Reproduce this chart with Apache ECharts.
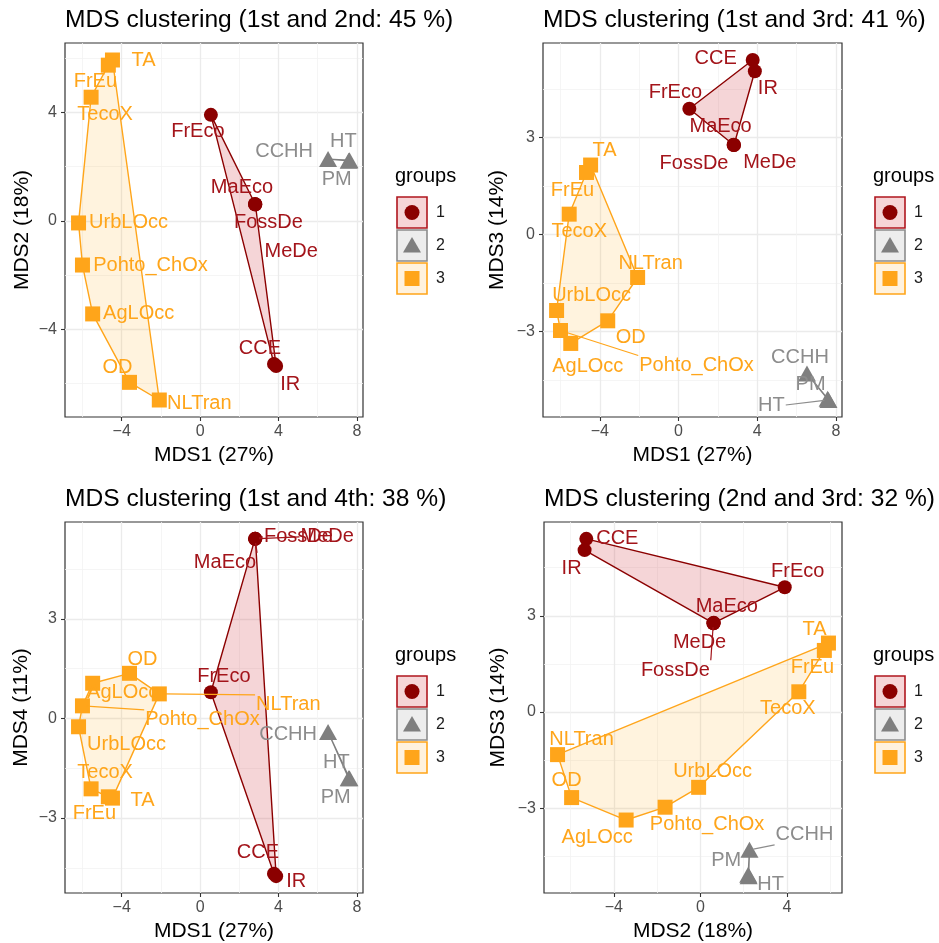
<!DOCTYPE html>
<html><head><meta charset="utf-8">
<script src="https://cdn.jsdelivr.net/npm/echarts@6/dist/echarts.min.js"></script>
<style>html,body{margin:0;padding:0;background:#fff}#c{width:939px;height:943px}</style>
</head><body><div id="c"></div>
<script>
// ---------------- data ----------------
const items  = ['CCE','IR','FrEco','MaEco','FossDe','MeDe','CCHH','HT','PM','TA','FrEu','TecoX','UrbLOcc','Pohto_ChOx','AgLOcc','OD','NLTran'];
const groups = [1,1,1,1,1,1,2,2,2,3,3,3,3,3,3,3,3];
const mds1 = [3.77, 3.88, 0.55, 2.80, 2.82, 2.81, 6.53, 7.62, 7.58, -4.47, -4.68, -5.56, -6.20, -6.00, -5.48, -3.60, -2.08];
const mds2 = [-5.27, -5.35, 3.90, 0.62, 0.60, 0.61, 2.27, 2.23, 2.21, 5.92, 5.73, 4.55, -0.08, -1.63, -3.43, -5.95, -6.60];
const mds3 = [5.40, 5.05, 3.89, 2.78, 2.77, 2.77, -4.30, -5.12, -5.08, 2.15, 1.92, 0.63, -2.35, -2.97, -3.37, -2.67, -1.33];
const mds4 = [-4.68, -4.75, 0.79, 5.41, 5.41, 5.41, -0.41, -1.80, -1.80, -2.40, -2.36, -2.12, -0.25, 0.38, 1.06, 1.36, 0.74];
const variance = [27, 18, 14, 11];
const ordinals = ['1st','2nd','3rd','4th'];
const panels = [[0,1],[0,2],[0,3],[1,2]];
const majorTicks = [[-4,0,4,8],[-4,0,4,8],[-3,0,3],[-3,0,3]];
const minorTicks = [[-6,-2,2,6],[-6,-2,2,6],[-4.5,-1.5,1.5,4.5],[-4.5,-1.5,1.5,4.5]];
const groupNames = ['1','2','3'];

// ---------------- layout / style ----------------
const FONT = "'Liberation Sans', Arial, Helvetica, sans-serif";
const dims = [mds1, mds2, mds3, mds4];
const grids = [
  {left:65, top:43, width:298, height:374},
  {left:543, top:43, width:299, height:374},
  {left:65, top:522, width:298, height:373},
  {left:544, top:522, width:298, height:373}
];
const yNameGap = [32, 35, 33, 35.5];
const legendPos = [[395,178],[873,178],[395,657],[873,657]];
const gStyle = {
  1:{symbol:'circle', size:14, color:'#8B0000', text:'#A3141A', hullFill:'rgba(205,45,55,0.2)', hullLine:'#8B0000', keyFill:'#F6D5D7', keyLine:'#B0161E'},
  2:{symbol:'triangle', size:[18,16], color:'#7F7F7F', text:'#8C8C8C', hullFill:'rgba(127,127,127,0.15)', hullLine:'#7F7F7F', keyFill:'#EDEDED', keyLine:'#8C8C8C'},
  3:{symbol:'rect', size:15, color:'#FFA51A', text:'#FFA51A', hullFill:'rgba(255,165,0,0.13)', hullLine:'#FFA51A', keyFill:'#FFF2DE', keyLine:'#FFA51A'}
};
// label offsets in pixels from the point: [dx, dy, leader]
const labelOffsets = [
  {CCE:[-14,-15], IR:[14,18], FrEco:[-13,17], MaEco:[-13,-16], FossDe:[13,18], MeDe:[36,47], CCHH:[-44,-8], HT:[-6,-19], PM:[-12,19], TA:[31,0], FrEu:[-13,16], TecoX:[14,17], UrbLOcc:[50,0], Pohto_ChOx:[68,0], AgLOcc:[46,0], OD:[-12,-15], NLTran:[40,3]},
  {CCE:[-37,-2], IR:[13,17], FrEco:[-14,-16], MaEco:[-13,-18], FossDe:[-40,18], MeDe:[36,17], CCHH:[-7,-16], HT:[-57,5,1], PM:[-17,-14], TA:[14,-15], FrEu:[-14,18], TecoX:[10,17], UrbLOcc:[35,-15], Pohto_ChOx:[136,35,1], AgLOcc:[17,23], OD:[23,17], NLTran:[13,-14]},
  {CCE:[-16,-21], IR:[20,5], FrEco:[13,-16], MaEco:[-30,24,1], FossDe:[43,-2,1], MeDe:[72,-2,1], CCHH:[-40,2], HT:[-13,-16], PM:[-13,19], TA:[30,2], FrEu:[-14,17], TecoX:[14,-16], UrbLOcc:[48,18], Pohto_ChOx:[120,14,1], AgLOcc:[30,9], OD:[13,-14], NLTran:[129,11,1]},
  {CCE:[31,0], IR:[-13,18], FrEco:[13,-16], MaEco:[13,-16], FossDe:[-38,47,1], MeDe:[-14,19], CCHH:[55,-15,1], HT:[22,8], PM:[-22,-14], TA:[-14,-14], FrEu:[-12,17], TecoX:[-11,17], UrbLOcc:[14,-16], Pohto_ChOx:[42,17], AgLOcc:[-29,17], OD:[-5,-17], NLTran:[24,-15]}
];

// ---------------- helpers ----------------
const cv = document.createElement('canvas').getContext('2d');
cv.font = '20px ' + FONT;
const measure = t => cv.measureText(t).width;
const fmt = v => String(v).replace('-', '\u2212');
function extentOf(arr){ const mn=Math.min(...arr), mx=Math.max(...arr), pad=(mx-mn)*0.05; return [mn-pad, mx+pad]; }
function hull(pts){
  const p = pts.slice().sort((a,b)=>a[0]-b[0]||a[1]-b[1]);
  if (p.length < 3) return p;
  const cross=(o,a,b)=>(a[0]-o[0])*(b[1]-o[1])-(a[1]-o[1])*(b[0]-o[0]);
  const lo=[], up=[];
  for (const q of p){ while(lo.length>=2 && cross(lo[lo.length-2],lo[lo.length-1],q)<=0) lo.pop(); lo.push(q); }
  for (let i=p.length-1;i>=0;i--){ const q=p[i]; while(up.length>=2 && cross(up[up.length-2],up[up.length-1],q)<=0) up.pop(); up.push(q); }
  up.pop(); lo.pop();
  return lo.concat(up);
}

const xAxes=[], yAxes=[], series=[], titles=[], graphics=[];
panels.forEach((pd,p)=>{
  const [xi, yi] = pd;
  const xe = extentOf(dims[xi]), ye = extentOf(dims[yi]);
  const xMaj = majorTicks[xi].filter(v=>v>=xe[0]&&v<=xe[1]);
  const yMaj = majorTicks[yi].filter(v=>v>=ye[0]&&v<=ye[1]);
  titles.push({text:`MDS clustering (${ordinals[xi]} and ${ordinals[yi]}: ${variance[xi]+variance[yi]} %)`,
    left:grids[p].left, top:grids[p].top-35, padding:0,
    textStyle:{fontSize:24.6, fontWeight:'normal', color:'#000', fontFamily:FONT}});
  const common = {gridIndex:p, type:'value', scale:true};
  xAxes.push(Object.assign({}, common, {min:xe[0], max:xe[1], position:'bottom',
    name:`MDS${xi+1} (${variance[xi]}%)`, nameLocation:'middle', nameGap:28,
    nameTextStyle:{fontSize:21, color:'#000', fontFamily:FONT},
    axisLine:{show:false, onZero:false},
    axisTick:{show:true, length:4, customValues:xMaj, lineStyle:{color:'#333', width:1.1}},
    axisLabel:{customValues:xMaj, color:'#4D4D4D', fontSize:16, fontFamily:FONT, margin:7, formatter:fmt},
    splitLine:{show:true, lineStyle:{color:'#EBEBEB', width:1.3}}}));
  xAxes.push(Object.assign({}, common, {min:xe[0], max:xe[1], position:'top',
    axisLine:{show:false, onZero:false}, axisTick:{show:false, customValues:minorTicks[xi]},
    axisLabel:{show:false, customValues:minorTicks[xi]},
    splitLine:{show:true, lineStyle:{color:'#F3F3F3', width:0.8}}}));
  yAxes.push(Object.assign({}, common, {min:ye[0], max:ye[1], position:'left',
    name:`MDS${yi+1} (${variance[yi]}%)`, nameLocation:'middle', nameGap:yNameGap[p], nameRotate:90,
    nameTextStyle:{fontSize:21, color:'#000', fontFamily:FONT},
    axisLine:{show:false, onZero:false},
    axisTick:{show:true, length:4, customValues:yMaj, lineStyle:{color:'#333', width:1.1}},
    axisLabel:{customValues:yMaj, color:'#4D4D4D', fontSize:16, fontFamily:FONT, margin:8, formatter:fmt},
    splitLine:{show:true, lineStyle:{color:'#EBEBEB', width:1.3}}}));
  yAxes.push(Object.assign({}, common, {min:ye[0], max:ye[1], position:'right',
    axisLine:{show:false, onZero:false}, axisTick:{show:false, customValues:minorTicks[yi]},
    axisLabel:{show:false, customValues:minorTicks[yi]},
    splitLine:{show:true, lineStyle:{color:'#F3F3F3', width:0.8}}}));

  // hulls
  [1,2,3].forEach(g=>{
    const pts = items.map((n,i)=>[dims[xi][i], dims[yi][i], groups[i]]).filter(d=>d[2]===g).map(d=>[d[0],d[1]]);
    const h = hull(pts);
    const st = gStyle[g];
    series.push({type:'custom', xAxisIndex:2*p, yAxisIndex:2*p, z:1, silent:true,
      encode:{x:0,y:1}, data:h,
      renderItem(params, api){
        if (params.dataIndex !== 0) return null;
        const c = h.map(v=>api.coord(v));
        return {type:'polygon', shape:{points:c}, style:{fill:st.hullFill, stroke:st.hullLine, lineWidth:1.4, lineJoin:'round'}};
      }});
  });
  // points
  [1,2,3].forEach(g=>{
    const st = gStyle[g];
    series.push({type:'scatter', xAxisIndex:2*p, yAxisIndex:2*p, z:3, silent:true,
      symbol:st.symbol, symbolSize:st.size, itemStyle:{color:st.color, opacity:1},
      data: items.map((n,i)=>[dims[xi][i], dims[yi][i], groups[i]]).filter(d=>d[2]===g).map(d=>[d[0],d[1]])});
  });
  // labels
  const offs = labelOffsets[p];
  series.push({type:'custom', xAxisIndex:2*p, yAxisIndex:2*p, z:5, silent:true,
    encode:{x:0,y:1},
    data: items.map((n,i)=>[dims[xi][i], dims[yi][i], i]),
    renderItem(params, api){
      const i = api.value(2);
      const name = items[i];
      const pt = api.coord([api.value(0), api.value(1)]);
      const o = offs[name];
      const cx = pt[0]+o[0], cy = pt[1]+o[1];
      const col = gStyle[groups[i]].text;
      const children = [];
      if (o[2]) {
        const w = measure(name)/2 + 1, hh = 10;
        const cands = [[cx-w,cy],[cx+w,cy],[cx,cy-hh],[cx,cy+hh],[cx-w,cy-hh],[cx+w,cy-hh],[cx-w,cy+hh],[cx+w,cy+hh]];
        let best=cands[0], bd=Infinity;
        cands.forEach(c=>{const d=Math.hypot(c[0]-pt[0], c[1]-pt[1]); if(d<bd){bd=d; best=c;}});
        const pad = 4;
        if (bd > pad+2) {
          const ux=(best[0]-pt[0])/bd, uy=(best[1]-pt[1])/bd;
          children.push({type:'line', shape:{x1:pt[0]+ux*pad, y1:pt[1]+uy*pad, x2:best[0], y2:best[1]},
            style:{stroke:col, lineWidth:1.2}});
        }
      }
      children.push({type:'text', x:cx, y:cy, style:{text:name, fill:col, fontSize:20, fontFamily:FONT, align:'center', verticalAlign:'middle'}});
      return {type:'group', children};
    }});

  // legend (drawn as graphics)
  const [lx, ly] = legendPos[p];
  graphics.push({type:'text', left:lx, top:ly-12, style:{text:'groups', fontSize:20, fontFamily:FONT, fill:'#000'}});
  [1,2,3].forEach((g,k)=>{
    const st = gStyle[g];
    const top = ly+19+k*33, cxk = lx+17, cyk = top+15.5;
    graphics.push({type:'rect', shape:{x:lx+2, y:top, width:30, height:31}, style:{fill:st.keyFill, stroke:st.keyLine, lineWidth:1.6}});
    if (g===1) graphics.push({type:'circle', shape:{cx:cxk, cy:cyk, r:7.5}, style:{fill:st.color}});
    if (g===2) graphics.push({type:'polygon', shape:{points:[[cxk, cyk-8.5],[cxk-9, cyk+7],[cxk+9, cyk+7]]}, style:{fill:st.color}});
    if (g===3) graphics.push({type:'rect', shape:{x:cxk-7.5, y:cyk-7.5, width:15, height:15}, style:{fill:st.color}});
    graphics.push({type:'text', x:lx+41, y:cyk, style:{text:groupNames[k], fontSize:16, fontFamily:FONT, fill:'#1A1A1A', verticalAlign:'middle'}});
  });
});

const chart = echarts.init(document.getElementById('c'), null, {renderer:'canvas'});
chart.setOption({
  animation:false,
  backgroundColor:'#fff',
  title: titles,
  grid: grids.map(g=>Object.assign({show:true, borderColor:'#333333', borderWidth:1.2, backgroundColor:'transparent', containLabel:false}, g)),
  xAxis: xAxes,
  yAxis: yAxes,
  series: series,
  graphic: graphics
});
</script></body></html>
